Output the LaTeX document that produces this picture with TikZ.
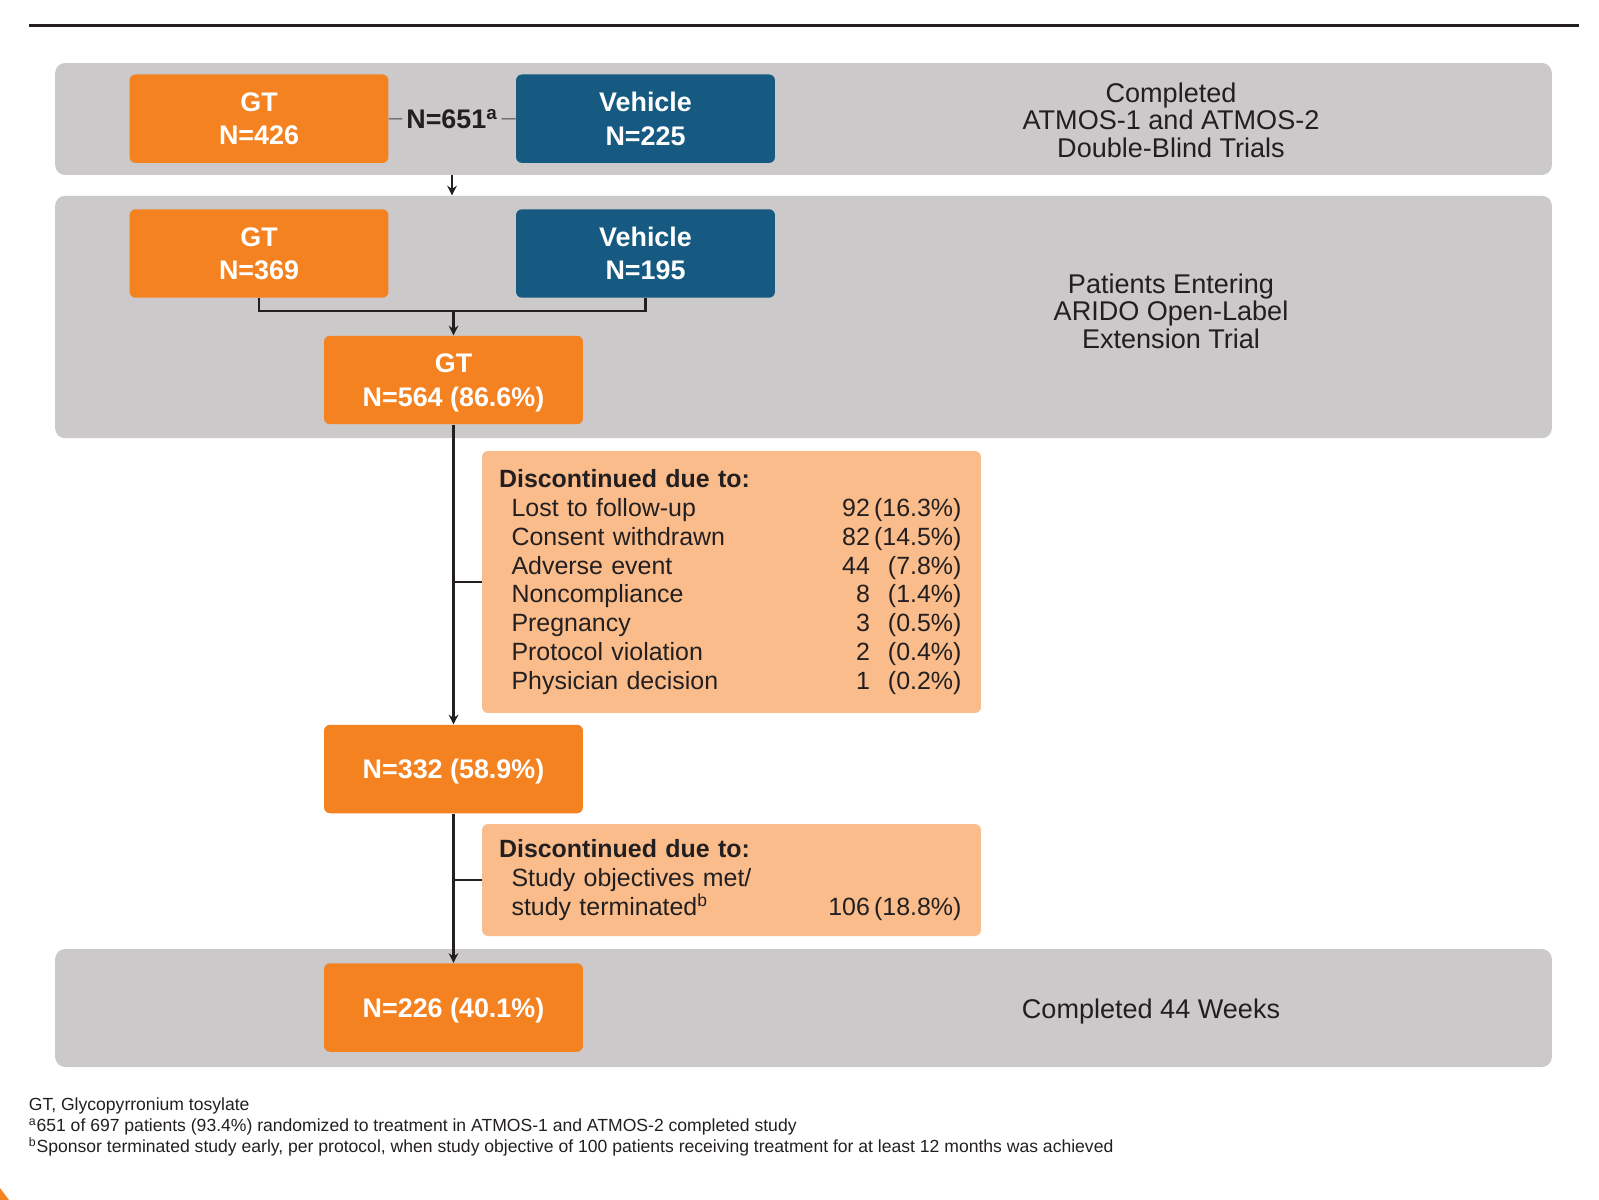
\documentclass[tikz,border=0pt]{standalone}
\usepackage{fontspec}
\setmainfont{Liberation Sans}
\usepackage{tikz}
\usetikzlibrary{arrows.meta}

\definecolor{gtorange}{HTML}{F58220}
\definecolor{vehblue}{HTML}{165A82}
\definecolor{bandgray}{HTML}{CBC9CA}
\definecolor{discorange}{HTML}{F9BC8A}
\definecolor{inkdark}{HTML}{231F20}

\newcommand{\discrow}[3]{\hspace*{0.25cm}\makebox[7.17cm][l]{#1\hfill #2}\makebox[1.83cm][r]{#3}}

\begin{document}
\begin{tikzpicture}[x=0.02cm, y=-0.02cm, >={Stealth[length=5.5pt,width=5.5pt]},
  band/.style={fill=bandgray, rounded corners=0.2cm, minimum width=29.94cm, inner sep=0pt},
  gtbox/.style={fill=gtorange, rounded corners=0.12cm, minimum width=5.18cm, minimum height=1.77cm,
    text depth=0pt, text=white, align=center, font=\bfseries\fontsize{15.3}{19}\selectfont},
  vehbox/.style={gtbox, fill=vehblue},
  discbox/.style={fill=discorange, rounded corners=0.12cm, text width=9.3cm, inner xsep=0.34cm,
    align=left, text=inkdark, font=\fontsize{14.2}{16.4}\selectfont},
  sidetext/.style={text=inkdark, align=center, font=\fontsize{15.4}{15.6}\selectfont},
  flow/.style={draw=inkdark, line width=1.2pt},
]
\useasboundingbox (0,0) rectangle (1599,1200);

\draw[inkdark, line width=1.7pt] (28.5,25.5) -- (1579,25.5);

% gray bands
\node[band, minimum height=2.24cm] (band1) at (803.5,119) {};
\node[band, minimum height=4.85cm] (band2) at (803.5,317) {};
\node[band, minimum height=2.36cm] (band3) at (803.5,1008) {};

\node[sidetext] (dbtext) at (1171,120) {Completed\\ATMOS-1 and ATMOS-2\\Double-Blind Trials};
\node[sidetext] (oletext) at (1171,311) {Patients Entering\\ARIDO Open-Label\\Extension Trial};
\node[sidetext] (wk44text) at (1151,1011.5) {Completed 44 Weeks};

% double-blind trials
\node[gtbox] (gt1) at (259,118.7) {GT\\N=426};
\node[vehbox] (veh1) at (645.5,118.7) {Vehicle\\N=225};
\node[text=inkdark, inner xsep=2pt, font=\bfseries\fontsize{15.3}{19}\selectfont] (n651) at (452,119) {N=651\textsuperscript{a}};
\draw[inkdark!85, line width=0.6pt] (gt1) -- (n651);
\draw[inkdark!85, line width=0.6pt] (n651) -- (veh1);
\draw[flow,->] (n651 |- band1.south) -- (n651 |- band2.north);

% open-label extension
\node[gtbox] (gt2) at (259,253.5) {GT\\N=369};
\node[vehbox] (veh2) at (645.5,253.5) {Vehicle\\N=195};
\node[gtbox] (gt3) at (453.5,380) {GT\\N=564 (86.6\%)};
\coordinate (join) at (453.5,311);
\draw[flow] (gt2.south) |- (join) -| (veh2.south);
\draw[flow,->] (join) -- (gt3);

\node[discbox, minimum height=5.24cm] (disc1) at (731.5,582) {\textbf{Discontinued due to:}\\
  \discrow{Lost to follow-up}{92}{(16.3\%)}\\
  \discrow{Consent withdrawn}{82}{(14.5\%)}\\
  \discrow{Adverse event}{44}{(7.8\%)}\\
  \discrow{Noncompliance}{8}{(1.4\%)}\\
  \discrow{Pregnancy}{3}{(0.5\%)}\\
  \discrow{Protocol violation}{2}{(0.4\%)}\\
  \discrow{Physician decision}{1}{(0.2\%)}};

\node[gtbox] (n332) at (453.5,769) {N=332 (58.9\%)};
\draw[flow,->] (gt3) -- (n332);
\draw[flow] (disc1.west -| gt3) -- (disc1.west);

\node[discbox, minimum height=2.24cm] (disc2) at (731.5,880) {\textbf{Discontinued due to:}\\
  \hspace*{0.25cm}Study objectives met/\\
  \discrow{study terminated\textsuperscript{b}}{106}{(18.8\%)}};

\node[gtbox] (n226) at (453.5,1007.5) {N=226 (40.1\%)};
\draw[flow,->] (n332) -- (n226);
\draw[flow] (disc2.west -| n332) -- (disc2.west);

% footnotes
\node[anchor=west, inner sep=0pt, align=left, text=inkdark, font=\fontsize{10}{12}\selectfont] (notes) at (28.5,1127) {GT, Glycopyrronium tosylate\\
\textsuperscript{a}651 of 697 patients (93.4\%) randomized to treatment in ATMOS-1 and ATMOS-2 completed study\\
\textsuperscript{b}Sponsor terminated study early, per protocol, when study objective of 100 patients receiving treatment for at least 12 months was achieved};

\fill[gtorange] (0,1188) -- (9,1200) -- (0,1200) -- cycle;
\end{tikzpicture}
\end{document}
